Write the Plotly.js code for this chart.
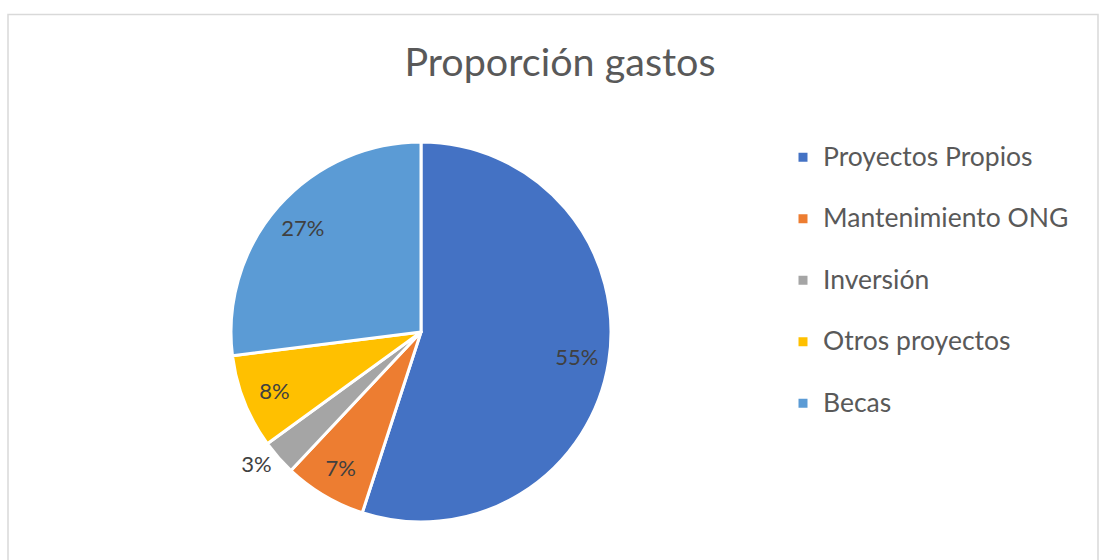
<!DOCTYPE html>
<html>
<head>
<meta charset="utf-8">
<script src="https://cdn.plot.ly/plotly-3.0.1.min.js"></script>
<style>
html,body{margin:0;padding:0;background:#fff;}
#chart{width:1099px;height:560px;}
</style>
</head>
<body>
<div id="chart"></div>
<script>
var categories = ["Proyectos Propios", "Mantenimiento ONG", "Inversión", "Otros proyectos", "Becas"];
var values = [55, 7, 3, 8, 27];
var colors = ["#4472C4", "#ED7D31", "#A5A5A5", "#FFC000", "#5B9BD5"];
var labelPositions = ["inside", "inside", "outside", "inside", "inside"];

var W = 1099, H = 560;
var cx = 421, cy = 332, r = 190;
var FONT = "Lato, sans-serif";

var domain = {
  x: [(cx - r) / W, (cx + r) / W],
  y: [1 - (cy + r) / H, 1 - (cy - r) / H]
};

// Slices + legend
var slices = {
  type: "pie",
  labels: categories.map(function (c) {
    return "<span style='font-size:26.5px'>" + c + "</span><br> ";
  }),
  values: values,
  hovertext: categories,
  hoverinfo: "text+percent",
  sort: false,
  direction: "clockwise",
  rotation: 0,
  textinfo: "none",
  marker: {colors: colors, line: {color: "#ffffff", width: 3}},
  domain: domain
};

// Percentage labels, set in a ring so they sit near the outer edge
var pctLabels = {
  type: "pie",
  labels: categories,
  values: values,
  sort: false,
  direction: "clockwise",
  rotation: 0,
  hole: 0.66,
  showlegend: false,
  hoverinfo: "skip",
  textinfo: "percent",
  textposition: labelPositions,
  insidetextorientation: "horizontal",
  textfont: {family: FONT, size: 22, color: "#404040"},
  insidetextfont: {family: FONT, size: 22, color: "#404040"},
  outsidetextfont: {family: FONT, size: 22, color: "#404040"},
  marker: {colors: categories.map(function () { return "rgba(0,0,0,0)"; }), line: {width: 0}},
  domain: domain
};

var layout = {
  width: W,
  height: H,
  margin: {l: 0, r: 0, t: 0, b: 0},
  paper_bgcolor: "#ffffff",
  font: {family: FONT, color: "#595959"},
  title: {
    text: "Proporción gastos",
    font: {family: FONT, size: 39.5, color: "#595959"},
    x: 560 / W, xanchor: "center", xref: "paper",
    y: 1 - 62 / H, yanchor: "middle", yref: "container"
  },
  showlegend: true,
  legend: {
    x: 783 / W, xanchor: "left",
    y: 1 - 136 / H, yanchor: "top",
    valign: "top",
    font: {family: FONT, size: 22.5, color: "#595959"},
    bgcolor: "rgba(0,0,0,0)"
  },
  shapes: [{
    type: "rect", xref: "paper", yref: "paper",
    x0: 8 / W, x1: 1098 / W, y0: -0.1, y1: 1 - 14.5 / H,
    line: {color: "#d9d9d9", width: 1.5}, fillcolor: "rgba(0,0,0,0)"
  }]
};

Plotly.newPlot("chart", [slices, pctLabels], layout, {displayModeBar: false, staticPlot: true});
</script>
</body>
</html>
